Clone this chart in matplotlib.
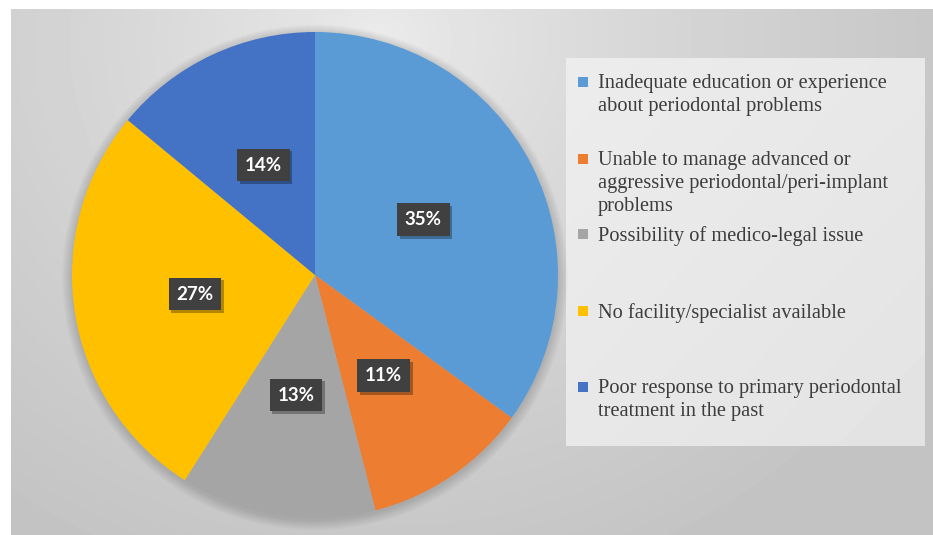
import numpy as np
import matplotlib.pyplot as plt
from matplotlib.patches import Circle, Rectangle
import matplotlib.patheffects as pe

# Reasons for referral (share of respondents, %)
categories = [
    "Inadequate education or experience\nabout periodontal problems",
    "Unable to manage advanced or\naggressive periodontal/peri-implant\nproblems",
    "Possibility of medico-legal issue",
    "No facility/specialist available",
    "Poor response to primary periodontal\ntreatment in the past",
]
shares = [35, 11, 13, 27, 14]
colors = ["#5B9BD5", "#ED7D31", "#A5A5A5", "#FFC000", "#4472C4"]

W, H = 933, 535
fig = plt.figure(figsize=(W / 100, H / 100), dpi=100)
fig.patch.set_facecolor("white")

# background layer in pixel coordinates
bg = fig.add_axes([0, 0, 1, 1])
yy, xx = np.mgrid[9:H, 11:W]
d = np.hypot(xx - 380, (yy - 40) * 1.1)
shade = 236 - 40 * np.clip(d / 620, 0, 1) ** 0.75
bg.imshow(shade, cmap="gray", vmin=0, vmax=255, extent=(11, W, H, 9),
          interpolation="bilinear", aspect="auto")

# legend panel
ly, lx = np.mgrid[58:446, 566:925]
lshade = 236 - 9 * ((lx - 566) / 359 + (ly - 58) / 388) / 2
bg.imshow(lshade, cmap="gray", vmin=0, vmax=255, extent=(566, 925, 446, 58),
          interpolation="bilinear", aspect="auto")

entry_y = [82, 159, 234, 311, 387]
for label, col, y in zip(categories, colors, entry_y):
    bg.add_patch(Rectangle((578, y - 5), 10, 10, fc=col, ec="none"))
    bg.text(598, y - 8, label, va="top", ha="left", fontsize=14.7,
            family="Liberation Serif", color="#3c3c3c", linespacing=1.27)

bg.set_xlim(0, W)
bg.set_ylim(H, 0)
bg.axis("off")

# pie
ax = fig.add_axes([72 / W, 17 / H, 486 / W, 486 / H])
for r in np.linspace(1.04, 1.003, 8):
    ax.add_patch(Circle((0, -0.01), r, fc="black", alpha=0.018, lw=0,
                        clip_on=False, zorder=0))

wedges, _ = ax.pie(shares, colors=colors, startangle=90, counterclock=False,
                   wedgeprops=dict(linewidth=0))

for w, v in zip(wedges, shares):
    ang = np.deg2rad((w.theta1 + w.theta2) / 2)
    x, y = 0.5 * np.cos(ang), 0.5 * np.sin(ang)
    t = ax.text(x, y, f"{v}%", ha="center", va="center", fontsize=13.5,
                fontweight="bold", family="Lato", color="white",
                bbox=dict(boxstyle="square,pad=0.42", fc="#404040", ec="none"))
    t.get_bbox_patch().set_path_effects(
        [pe.SimplePatchShadow(offset=(2, -2), shadow_rgbFace="black", alpha=0.3),
         pe.Normal()])

ax.set_xlim(-1, 1)
ax.set_ylim(-1, 1)
ax.axis("off")

fig.savefig("out.png", dpi=100)
